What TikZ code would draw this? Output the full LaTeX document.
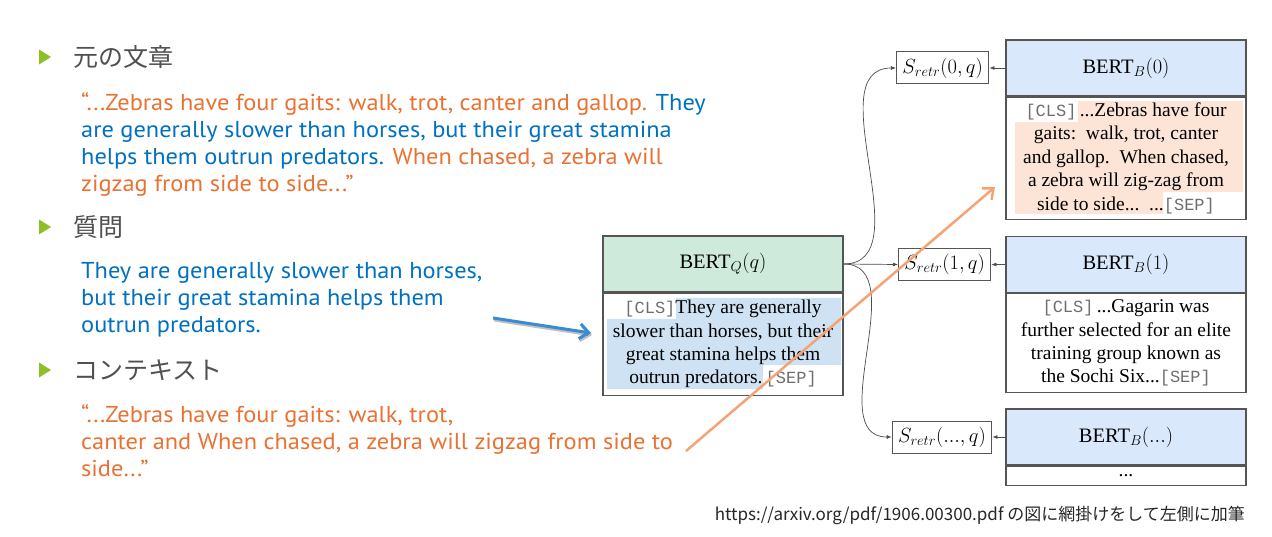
\RequirePackage{fix-cm}
\documentclass[tikz,border=0pt]{standalone}
\usepackage{fontspec}
\setmainfont{Liberation Serif}
\setmonofont{Liberation Mono}
\newfontfamily\slidefont[FakeStretch=1.06]{PT Sans}
\newfontfamily\jpfont{Noto Sans CJK JP}
\usetikzlibrary{positioning,arrows.meta}

\definecolor{txtorange}{RGB}{233,113,50}
\definecolor{txtblue}{RGB}{0,112,192}
\definecolor{bulletgreen}{RGB}{140,192,38}
\definecolor{headgray}{RGB}{80,80,80}
\definecolor{qgreen}{RGB}{206,234,219}
\definecolor{bblue}{RGB}{218,232,252}
\definecolor{hlblue}{RGB}{207,226,243}
\definecolor{hlpeach}{RGB}{252,228,214}
\definecolor{boxgray}{RGB}{85,85,85}
\definecolor{arrorange}{RGB}{244,164,116}
\definecolor{arrblue}{RGB}{58,140,210}
\definecolor{tokgray}{RGB}{110,110,110}

\newcommand{\tok}[1]{{\ttfamily\fontsize{17}{23.4}\selectfont\color{tokgray}#1}}

\tikzset{
  heading/.style={anchor=west, inner sep=0pt, text=headgray, font=\jpfont\fontsize{25}{30}\selectfont},
  slideline/.style={anchor=base west, inner sep=0pt, font=\slidefont\fontsize{23}{27}\selectfont},
  headbox/.style={draw=boxgray, line width=1.2pt, minimum width=240pt, minimum height=56pt, font=\fontsize{20.5}{24}\selectfont},
  bodybox/.style={draw=boxgray, line width=1.2pt, minimum width=240pt, inner sep=0pt, align=center, font=\fontsize{19.5}{23.4}\selectfont},
  scorebox/.style={draw=boxgray, line width=1pt, minimum height=32pt, inner xsep=6pt, inner ysep=2pt, font=\fontsize{20.5}{22}\selectfont},
  conn/.style={-{Latex[length=5pt,width=4pt]}, line width=0.7pt, draw=black!70},
}

\begin{document}
\begin{tikzpicture}[x=1pt, y=-1pt]
  \useasboundingbox (0,0) rectangle (1272,537);

  % 左側の見出し
  \foreach \y in {57,227,370}
    \fill[bulletgreen] (39,\y-7.5) -- (51,\y) -- (39,\y+7.5) -- cycle;
  \node[heading] (h1) at (73,57) {元の文章};
  \node[heading] (h2) at (73,227) {質問};
  \node[heading] (h3) at (73,370) {コンテキスト};

  % 元の文章
  \node[slideline] (t1a) at (81,111) {\color{txtorange}“...Zebras have four gaits: walk, trot, canter and gallop. \color{txtblue}They};
  \node[slideline, text=txtblue] (t1b) at (81,138) {are generally slower than horses, but their great stamina};
  \node[slideline] (t1c) at (81,165) {\color{txtblue}helps them outrun predators. \color{txtorange}When chased, a zebra will};
  \node[slideline, text=txtorange] (t1d) at (81,192) {zigzag from side to side...”};

  % 質問
  \node[slideline, text=txtblue] (t2a) at (81,279) {They are generally slower than horses,};
  \node[slideline, text=txtblue] (t2b) at (81,306) {but their great stamina helps them};
  \node[slideline, text=txtblue] (t2c) at (81,333) {outrun predators.};

  % コンテキスト
  \node[slideline, text=txtorange] (t3a) at (81,422) {“...Zebras have four gaits: walk, trot,};
  \node[slideline, text=txtorange] (t3b) at (81,449) {canter and When chased, a zebra will zigzag from side to};
  \node[slideline, text=txtorange] (t3c) at (81,476) {side...”};

  % 網掛け
  \fill[hlblue] (676,298) -- (841,298) -- (841,365) -- (763,365) -- (763,389)
    -- (607,389) -- (607,319) -- (676,319) -- cycle;
  \fill[hlpeach] (1078,101) -- (1243,101) -- (1243,192) -- (1163,192) -- (1163,214)
    -- (1015,214) -- (1015,122) -- (1078,122) -- cycle;

  % BERT_Q
  \node[headbox, fill=qgreen] (bq) at (723,264) {BERT$_Q(q)$};
  \node[bodybox, minimum height=102pt, below=0pt of bq] (bqt)
    {\tok{[CLS]}They are generally\\ slower than horses, but their\\ great stamina helps them\\ outrun predators.\,\tok{[SEP]}};
  \draw[boxgray, line width=2pt] (bq.south west) -- (bq.south east);

  % BERT_B
  \node[headbox, fill=bblue] (b0) at (1126,68) {BERT$_B(0)$};
  \node[bodybox, minimum height=122pt, below=0pt of b0] (b0t)
    {\tok{[CLS]}\,...Zebras have four\\ gaits:\ \ walk, trot, canter\\ and gallop.\ \ When chased,\\ a zebra will zig-zag from\\ side to side...\ \ ...\tok{[SEP]}};
  \draw[boxgray, line width=2pt] (b0.south west) -- (b0.south east);

  \node[headbox, fill=bblue] (b1) at (1126,264.5) {BERT$_B(1)$};
  \node[bodybox, minimum height=99pt, below=0pt of b1] (b1t)
    {\tok{[CLS]}\,...Gagarin was\\ further selected for an elite\\ training group known as\\ the Sochi Six...\tok{[SEP]}};
  \draw[boxgray, line width=2pt] (b1.south west) -- (b1.south east);

  \node[headbox, fill=bblue] (b2) at (1126,437) {BERT$_B(...)$};
  \node[bodybox, minimum height=19pt, below=0pt of b2] (b2t) {...};
  \draw[boxgray, line width=2pt] (b2.south west) -- (b2.south east);

  % スコア
  \node[scorebox, left=16pt of b0] (s0) {$S_{retr}(0,q)$};
  \node[scorebox, left=14pt of b1] (s1) {$S_{retr}(1,q)$};
  \node[scorebox, left=13pt of b2] (s2) {$S_{retr}(...,q)$};

  \draw[conn] (b0.west) -- (s0.east);
  \draw[conn] (b1.west) -- (s1.east);
  \draw[conn] (b2.west) -- (s2.east);
  \draw[conn] (bq.east) to[out=0, in=180] (s0.west);
  \draw[conn] (bq.east) -- (s1.west);
  \draw[conn] (bq.east) to[out=0, in=180] (s2.west);

  % 加筆した矢印
  \coordinate (qa) at (493,318);
  \coordinate (qb) at (591,333);
  \draw[black, opacity=0.25, line width=3pt, -{Straight Barb[length=9pt,width=15pt]}]
    ([shift={(1,2)}]qa) -- ([shift={(1,2)}]qb);
  \draw[arrblue, line width=3pt, -{Straight Barb[length=9pt,width=15pt]}] (qa) -- (qb);

  \coordinate (ca) at (686,451);
  \coordinate (cb) at (995,187);
  \draw[arrorange, line width=2.5pt, -{Straight Barb[length=9pt,width=15pt]}] (ca) -- (cb);

  % 出典
  \node[anchor=east, inner sep=0pt, text=black!85, font=\jpfont\fontsize{17}{20}\selectfont] (src) at (1245,515)
    {https://arxiv.org/pdf/1906.00300.pdf の図に網掛けをして左側に加筆};
\end{tikzpicture}
\end{document}
